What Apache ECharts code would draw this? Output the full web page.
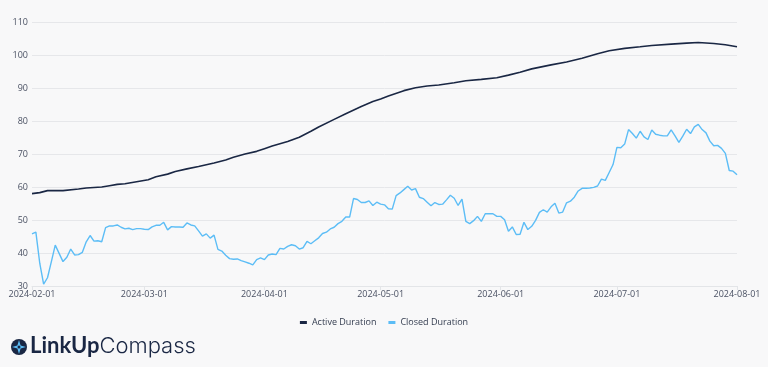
<!DOCTYPE html>
<html>
<head>
<meta charset="utf-8">
<script src="https://cdn.jsdelivr.net/npm/echarts@6/dist/echarts.min.js"></script>
<style>
html,body{margin:0;padding:0;background:#f8f8f9;}
#c{width:768px;height:367px;}
</style>
</head>
<body>
<div id="c"></div>
<script>
const startDate = '2024-02-01';
const endDate = '2024-08-01';
const seriesNames = ['Active Duration', 'Closed Duration'];
const yTicks = {min: 30, max: 110, interval: 10};

// Active Duration: sampled [day offset from start, value]
const activeDays = [0,2,4,8,12,14,18,20,22,24,27,30,32,35,37,40,43,47,50,52,55,58,60,62,66,69,72,74,78,81,85,88,90,92,96,99,102,105,109,112,116,120,123,126,129,134,138,142,146,149,153,157,160,165,169,172,176,179,182];
const activeValues = [58.0,58.3,58.9,58.9,59.4,59.7,60.0,60.4,60.8,61.0,61.6,62.2,63.1,63.9,64.7,65.5,66.2,67.3,68.2,69.0,70.0,70.8,71.6,72.4,73.8,75.1,76.9,78.2,80.5,82.2,84.4,85.9,86.7,87.6,89.2,90.1,90.6,90.9,91.6,92.2,92.6,93.1,93.9,94.8,95.8,97.0,97.9,99.0,100.4,101.3,102.0,102.5,102.9,103.3,103.6,103.8,103.5,103.1,102.5];

// Closed Duration: daily values from 2024-02-01 to 2024-08-01
const closedValues = [
45.8,46.3,36.9,30.6,32.5,37.4,42.4,39.9,37.4,38.7,41.2,39.4,39.5,40.2,43.4,45.3,43.6,43.7,43.4,47.7,
48.2,48.2,48.5,47.8,47.3,47.5,47.1,47.4,47.4,47.2,47.1,47.9,48.4,48.4,49.3,47.0,48.0,47.9,47.9,47.8,
49.1,48.5,48.2,46.7,45.1,45.8,44.5,45.4,41.1,40.6,39.3,38.3,38.1,38.2,37.7,37.3,36.9,36.4,38.0,38.5,
38.0,39.4,39.7,39.5,41.4,41.2,42.0,42.5,42.2,41.2,41.6,43.5,42.8,43.7,44.6,45.9,46.3,47.3,47.8,48.9,
49.6,50.9,50.9,56.5,56.2,55.3,55.3,55.8,54.4,55.4,54.8,54.6,53.4,53.3,57.4,58.2,59.2,60.2,59.1,59.5,
56.9,56.5,55.4,54.3,55.3,54.7,54.8,56.1,57.5,56.6,54.4,56.3,49.6,48.9,49.8,51.1,49.6,51.9,51.9,51.9,
51.1,51.1,50.1,46.6,47.9,45.6,45.7,49.3,47.1,48.1,49.9,52.3,53.1,52.4,54.0,55.1,52.1,52.4,55.2,55.7,
56.9,58.8,59.6,59.6,59.7,59.9,60.3,62.4,62.0,64.4,66.8,72.0,71.9,73.0,77.4,76.2,74.8,76.9,75.2,74.4,
77.3,76.0,75.7,75.5,75.5,77.3,75.5,73.5,75.4,77.5,76.2,78.2,79.0,77.4,76.4,73.9,72.5,72.6,71.7,70.2,
65.0,64.8,63.7];

const DAY = 86400000;
const t0 = Date.UTC(2024, 1, 1);
function dayToDate(d){ return new Date(t0 + d*DAY).toISOString().slice(0,10); }

const activeData = activeDays.map((d,i)=>[dayToDate(d), activeValues[i]]);
const closedData = closedValues.map((v,i)=>[dayToDate(i), v]);

const chart = echarts.init(document.getElementById('c'), null, {renderer:'canvas'});
chart.setOption({
  backgroundColor: '#f8f8f9',
  animation: false,
  grid: {left: 32, right: 31, top: 22, bottom: 81, containLabel: false},
  xAxis: {
    type: 'time',
    min: startDate,
    max: endDate,
    splitNumber: 6,
    axisLine: {show: true, lineStyle: {color: '#e3e5e8', width: 1}},
    axisTick: {show: true, length: 4, lineStyle: {color: '#e3e5e8'}},
    axisLabel: {
      formatter: '{yyyy}-{MM}-{dd}',
      color: '#4a5163', fontSize: 9, fontFamily: 'Open Sans', margin: 4,
      showMinLabel: true, showMaxLabel: true, hideOverlap: false
    },
    splitLine: {show: false}
  },
  yAxis: {
    type: 'value',
    min: yTicks.min, max: yTicks.max, interval: yTicks.interval,
    axisLine: {show: false},
    axisTick: {show: false},
    axisLabel: {color: '#4a5163', fontSize: 9, fontFamily: 'Open Sans', margin: 4},
    splitLine: {lineStyle: {color: '#e6e7ea', width: 1}}
  },
  legend: {
    bottom: 35,
    left: 'center',
    itemWidth: 7, itemHeight: 3, itemGap: 12,
    icon: 'rect',
    textStyle: {color: '#333c4f', fontSize: 9, fontFamily: 'Open Sans'},
    data: seriesNames
  },
  series: [
    {name: seriesNames[0], type: 'line', data: activeData, showSymbol: false, smooth: false,
     lineStyle: {color: '#1a2744', width: 1.6}, itemStyle: {color: '#1a2744'}},
    {name: seriesNames[1], type: 'line', data: closedData, showSymbol: false,
     lineStyle: {color: '#5cbdf6', width: 1.4}, itemStyle: {color: '#5cbdf6'}}
  ],
  graphic: [
    {type: 'circle', shape: {cx: 19, cy: 347, r: 8}, style: {fill: '#1a2744'}},
    {type: 'polygon', shape: {points: [[19,340],[20.6,345.4],[26,347],[20.6,348.6],[19,354],[17.4,348.6],[12,347],[17.4,345.4]]}, style: {fill: '#5cbdf6'}},
    {type: 'circle', shape: {cx: 19, cy: 347, r: 1.5}, style: {fill: '#1a2744'}},
    {type: 'text', left: 30, top: 335, style: {
      text: '{b|LinkUp}{l|Compass}',
      rich: {
        b: {fontFamily: 'Lato', fontWeight: 'bold', fontSize: 22, fill: '#1a2744'},
        l: {fontFamily: 'Inter', fontWeight: 300, fontSize: 22, fill: '#1a2744'}
      }
    }}
  ]
});
</script>
</body>
</html>
